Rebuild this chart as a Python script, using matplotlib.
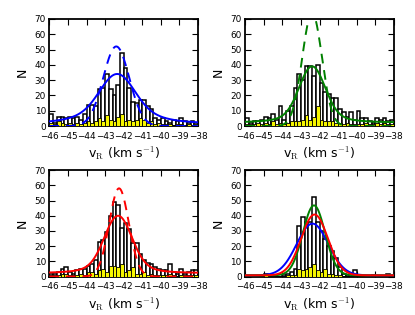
import numpy as np
import matplotlib
matplotlib.use("Agg")
import matplotlib.pyplot as plt

# ---- data -------------------------------------------------------------
bin_left = -46.0
bin_width = 0.2
n_bins = 40

counts_1 = [8, 2, 6, 6, 5, 6, 5, 6, 4, 8, 14, 14, 13, 24, 25, 34, 24, 20, 27, 48,
            38, 25, 16, 15, 17, 17, 13, 11, 5, 4, 5, 3, 2, 4, 3, 5, 3, 2, 3, 2]
yellow_1 = [2, 1, 3, 2, 1, 2, 1, 2, 1, 2, 3, 2, 3, 5, 3, 7, 4, 3, 6, 8,
            3, 4, 3, 4, 5, 4, 2, 3, 1, 2, 1, 1, 1, 0, 1, 1, 0, 1, 0, 1]

counts_2 = [5, 2, 3, 3, 4, 6, 5, 8, 4, 13, 4, 10, 13, 25, 34, 30, 39, 39, 33, 40,
            28, 22, 21, 18, 18, 11, 9, 6, 9, 4, 10, 5, 5, 3, 2, 5, 4, 5, 3, 4]
yellow_2 = [1, 1, 1, 2, 1, 2, 1, 3, 1, 2, 1, 2, 3, 3, 3, 4, 7, 4, 6, 13,
            4, 3, 3, 3, 2, 2, 1, 2, 1, 1, 1, 1, 2, 1, 1, 2, 1, 2, 1, 1]

counts_3 = [2, 2, 3, 5, 6, 3, 2, 4, 5, 5, 7, 8, 11, 23, 24, 29, 40, 49, 47, 32,
            35, 31, 22, 22, 15, 11, 9, 8, 6, 5, 4, 4, 8, 3, 2, 5, 2, 3, 4, 4]
yellow_3 = [1, 1, 1, 2, 2, 1, 1, 1, 2, 1, 3, 3, 2, 4, 5, 3, 7, 7, 6, 8,
            3, 4, 6, 2, 2, 3, 1, 2, 1, 1, 1, 1, 2, 1, 0, 1, 1, 1, 1, 1]

counts_4 = [0, 0, 0, 0, 0, 2, 0, 0, 0, 0, 1, 2, 3, 5, 33, 39, 36, 36, 52, 36,
            30, 25, 20, 17, 12, 6, 2, 1, 0, 4, 0, 0, 0, 0, 1, 0, 0, 0, 2, 0]
yellow_4 = [0, 0, 0, 0, 0, 1, 0, 0, 0, 0, 0, 1, 1, 1, 5, 4, 5, 6, 8, 4,
            3, 5, 2, 2, 1, 1, 0, 0, 0, 0, 0, 0, 0, 0, 0, 0, 0, 0, 0, 0]

# fitted model parameters
# wide profile: background, core amp, core mean, core sigma, wing amp, wing sigma
wide_1 = (2.0, 24.0, -42.35, 0.9, 8.0, 1.8)
narrow_1 = (52.0, -42.4, 0.70)
wide_2 = (2.5, 32.5, -42.4, 0.68, 4.0, 1.5)
narrow_2 = (74.0, -42.4, 0.53)
wide_3 = (2.5, 33.5, -42.3, 0.72, 4.0, 1.5)
narrow_3 = (58.0, -42.25, 0.53)
# panel 4 gaussians: amp, mean, sigma, background
gauss_blue_4 = (34.0, -42.38, 0.85, 0.8)
gauss_green_4 = (46.0, -42.3, 0.60, 0.8)
gauss_red_4 = (40.0, -42.27, 0.72, 0.8)

xticks = list(range(-46, -37))
yticks = list(range(0, 71, 10))

# ---- helpers ----------------------------------------------------------
def gauss(x, a, m, s):
    return a * np.exp(-0.5 * ((x - m) / s) ** 2)

def wide(x, p):
    bg, a, m, s, b, s2 = p
    return bg + gauss(x, a, m, s) + gauss(x, b, m, s2)

def narrow(x, p):
    a, m, s = p
    return gauss(x, a, m, s)

plt.rcParams['font.family'] = ['DejaVu Sans']
plt.rcParams['mathtext.fontset'] = 'cm'

fig = plt.figure(figsize=(4.15, 3.15), dpi=100)
L1, R1, L2, R2 = 0.119, 0.477, 0.591, 0.949
T1, B1, T2, B2 = 0.940, 0.600, 0.460, 0.122
boxes = [(L1, B1, R1 - L1, T1 - B1), (L2, B1, R2 - L2, T1 - B1),
         (L1, B2, R1 - L1, T2 - B2), (L2, B2, R2 - L2, T2 - B2)]
axes = [fig.add_axes(b) for b in boxes]

edges = bin_left + bin_width * np.arange(n_bins)
xx = np.linspace(-46, -38, 600)

def draw_hist(ax, c, y):
    ax.bar(edges, c, width=bin_width, align='edge', color='white',
           edgecolor='black', linewidth=1.1, zorder=2)
    ax.bar(edges, y, width=bin_width, align='edge', color='#f5f500',
           edgecolor='black', linewidth=0.6, zorder=3)

panels = [(counts_1, yellow_1, wide_1, narrow_1, 'blue'),
          (counts_2, yellow_2, wide_2, narrow_2, 'green'),
          (counts_3, yellow_3, wide_3, narrow_3, 'red')]
for ax, (c, y, wp, npar, col) in zip(axes[:3], panels):
    draw_hist(ax, c, y)
    ax.plot(xx, wide(xx, wp), color=col, lw=1.4, zorder=4)
    ax.plot(xx, narrow(xx, npar), color=col, lw=1.4, ls=(0, (5, 3.5)), zorder=4)

ax = axes[3]
draw_hist(ax, counts_4, yellow_4)
for p, col in [(gauss_blue_4, 'blue'), (gauss_green_4, 'green'), (gauss_red_4, 'red')]:
    a, m, s, bg = p
    ax.plot(xx, bg + gauss(xx, a, m, s), color=col, lw=1.4, zorder=4)

for ax in axes:
    ax.set_xlim(-46, -38)
    ax.set_ylim(0, 70)
    ax.set_xticks(xticks)
    ax.set_yticks(yticks)
    ax.set_xticklabels(['\u2212%d' % abs(t) for t in xticks])
    ax.tick_params(direction='in', top=True, right=True, length=4, width=0.8,
                   labelsize=6.4)
    ax.tick_params(axis='x', pad=4)
    ax.tick_params(axis='y', pad=2.5)
    for sp in ax.spines.values():
        sp.set_linewidth(1.3)
    ax.set_ylabel('N', fontsize=9, labelpad=4)
    ax.set_xlabel(r'v$_\mathrm{R}$ (km s$^{-1}$)', fontsize=9, labelpad=3)

fig.savefig('out.png', dpi=100)
